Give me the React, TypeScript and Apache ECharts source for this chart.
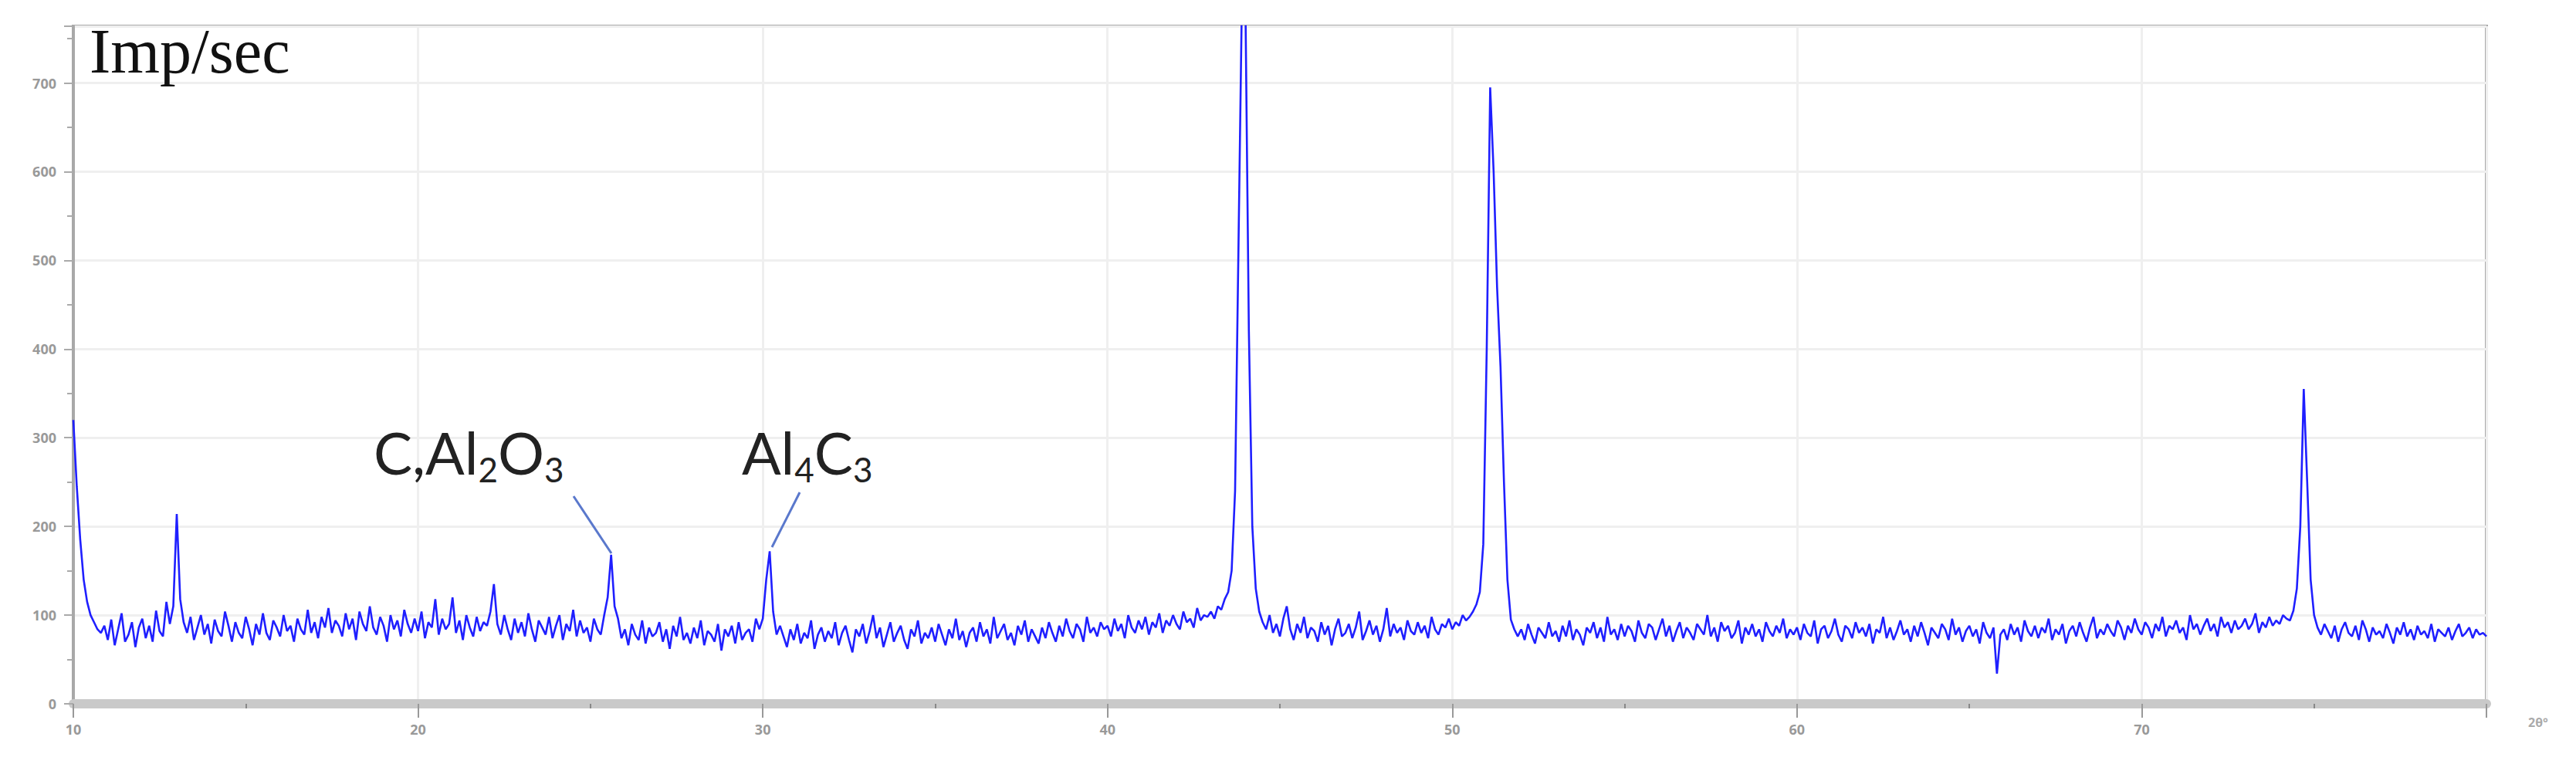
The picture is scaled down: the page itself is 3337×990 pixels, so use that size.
import React, { useEffect, useRef } from 'react';
import * as echarts from 'echarts';

// 2θ scan: start angle and step (degrees)
const thetaStart = 10.0;
const thetaStep = 0.1;

// Intensity (Imp/sec), 0.1° step
const seg10to20 = [
  320, 245, 185, 140, 115, 100, 92, 84, 80, 88,
  72, 95, 66, 84, 102, 70, 78, 92, 64, 86,
  96, 74, 88, 70, 105, 82, 76, 115, 90, 110,
  214, 118, 92, 80, 98, 72, 86, 100, 78, 90,
  68, 95, 82, 76, 104, 88, 70, 92, 80, 74,
  98, 84, 66, 90, 78, 102, 80, 72, 94, 86,
  76, 100, 82, 88, 70, 96, 84, 78, 106, 80,
  92, 74, 98, 86, 108, 80, 94, 88, 76, 102,
  84, 96, 72, 104, 90, 82, 110, 86, 78, 98,
  88, 70, 100, 84, 94, 76, 106, 90, 80, 96,
];
const seg20to30 = [
  82, 104, 74, 92, 86, 118, 78, 96, 84, 90,
  120, 80, 94, 72, 100, 86, 76, 98, 82, 92,
  88, 104, 135, 90, 78, 100, 84, 72, 96, 80,
  92, 76, 102, 84, 70, 94, 86, 78, 98, 74,
  88, 100, 72, 90, 82, 106, 76, 94, 80, 86,
  70, 96, 84, 78, 100, 120, 168, 110, 96, 74,
  84, 66, 90, 78, 72, 94, 68, 86, 76, 80,
  92, 70, 84, 62, 88, 76, 98, 72, 80, 68,
  86, 74, 94, 66, 82, 78, 70, 90, 60, 84,
  76, 88, 68, 92, 72, 80, 84, 70, 96, 84,
];
const seg30to40 = [
  96, 140, 172, 104, 78, 88, 76, 64, 84, 72,
  90, 68, 80, 74, 94, 62, 78, 86, 70, 82,
  74, 92, 66, 80, 88, 72, 58, 84, 76, 90,
  68, 82, 100, 74, 86, 64, 78, 92, 70, 80,
  88, 72, 62, 84, 76, 94, 68, 80, 74, 86,
  70, 90, 78, 66, 84, 74, 96, 72, 82, 64,
  80, 86, 70, 92, 76, 84, 68, 98, 74, 82,
  90, 72, 80, 66, 88, 78, 94, 70, 84, 76,
  68, 86, 74, 92, 80, 70, 88, 76, 96, 82,
  74, 90, 84, 70, 98, 80, 86, 76, 92, 84,
];
const seg40to50 = [
  88, 76, 96, 82, 90, 74, 100, 86, 80, 94,
  84, 98, 78, 92, 86, 102, 80, 94, 88, 100,
  90, 84, 104, 92, 96, 86, 108, 94, 100, 98,
  104, 96, 110, 106, 118, 126, 150, 240, 520, 800,
  790, 420, 200, 130, 104, 92, 84, 100, 80, 90,
  76, 96, 110, 84, 72, 90, 80, 98, 74, 86,
  82, 70, 92, 78, 88, 66, 84, 96, 76, 80,
  90, 74, 86, 104, 72, 82, 94, 78, 88, 70,
  84, 108, 76, 90, 80, 86, 72, 94, 82, 78,
  92, 80, 88, 74, 98, 84, 78, 90, 86, 96,
];
const seg50to60 = [
  84, 92, 88, 100, 94, 98, 104, 112, 126, 180,
  400, 695, 600, 470, 380, 250, 140, 95, 84, 76,
  84, 72, 90, 78, 68, 86, 80, 74, 92, 76,
  82, 70, 88, 76, 94, 72, 84, 78, 66, 86,
  80, 92, 74, 86, 70, 98, 78, 84, 72, 90,
  76, 88, 82, 70, 94, 80, 74, 90, 86, 72,
  84, 96, 76, 88, 70, 82, 92, 74, 86, 80,
  72, 90, 84, 78, 100, 76, 86, 70, 92, 82,
  88, 74, 80, 94, 68, 86, 78, 90, 76, 84,
  70, 92, 82, 76, 88, 80, 96, 74, 84, 78,
];
const seg60to70 = [
  86, 72, 90, 80, 76, 94, 68, 84, 88, 74,
  82, 96, 78, 70, 88, 84, 74, 92, 80, 86,
  76, 90, 68, 84, 80, 98, 74, 86, 72, 82,
  94, 78, 84, 70, 88, 76, 92, 80, 66, 86,
  80, 74, 90, 84, 72, 96, 78, 86, 70, 82,
  88, 76, 84, 68, 92, 80, 74, 86, 34, 78,
  84, 72, 90, 78, 86, 70, 94, 82, 76, 88,
  74, 86, 80, 96, 72, 84, 78, 90, 68, 82,
  88, 76, 92, 80, 70, 86, 98, 74, 84, 78,
  90, 82, 76, 94, 86, 72, 88, 80, 96, 84,
];
const seg70to80 = [
  78, 92, 86, 74, 90, 82, 98, 76, 88, 84,
  94, 80, 86, 72, 100, 84, 90, 78, 88, 96,
  82, 90, 76, 98, 86, 92, 80, 94, 84, 88,
  96, 84, 90, 102, 80, 92, 86, 98, 88, 94,
  90, 100, 96, 94, 105, 130, 200, 355, 250, 140,
  100, 86, 78, 90, 82, 74, 88, 70, 84, 92,
  80, 76, 88, 72, 94, 84, 70, 86, 78, 82,
  74, 90, 80, 68, 86, 78, 92, 76, 84, 72,
  88, 78, 82, 74, 90, 70, 84, 80, 76, 86,
  72, 82, 90, 76, 80, 86, 74, 84, 78, 80,
  76,
];

const intensity = [
  ...seg10to20, ...seg20to30, ...seg30to40, ...seg40to50,
  ...seg50to60, ...seg60to70, ...seg70to80,
];

const xMin = 10;
const xMax = 80;
const xInterval = 10;
const yMin = 0;
const yMax = 764;
const yInterval = 100;

const yAxisTitle = 'Imp/sec';
const xAxisTitle = '2θ°';
// phase labels: [text, isSubscript]
const labelCAl2O3: [string, boolean][] = [['C,Al', false], ['2', true], ['O', false], ['3', true]];
const labelAl4C3: [string, boolean][] = [['Al', false], ['4', true], ['C', false], ['3', true]];

const MAIN_SIZE = 75;
const SUB_SIZE = 44;
const FONT_FAMILY = 'Lato';

function measure(text: string, size: number): number {
  const c = document.createElement('canvas');
  const ctx = c.getContext('2d');
  if (!ctx) return text.length * size * 0.55;
  ctx.font = `${size}px ${FONT_FAMILY}`;
  return ctx.measureText(text).width;
}

function formulaGroup(parts: [string, boolean][], left: number, mainCenterY: number) {
  const children: any[] = [];
  let x = left;
  parts.forEach(([t, sub]) => {
    const size = sub ? SUB_SIZE : MAIN_SIZE;
    children.push({
      type: 'text',
      z: 10,
      style: {
        text: t,
        x,
        y: sub ? mainCenterY + 22 : mainCenterY,
        fontFamily: FONT_FAMILY,
        fontSize: size,
        fill: '#222222',
        align: 'left',
        verticalAlign: 'middle',
      },
    });
    x += measure(t, size);
  });
  return children;
}

export default function App() {
  const ref = useRef<HTMLDivElement>(null);

  useEffect(() => {
    if (!ref.current) return;
    const chart = echarts.init(ref.current, null, { renderer: 'svg' });
    const data = intensity.map((v, i) => [
      Math.round((thetaStart + i * thetaStep) * 10) / 10,
      v,
    ]);

    const option: any = {
      animation: false,
      backgroundColor: '#ffffff',
      grid: {
        left: 95,
        right: 116,
        top: 34,
        bottom: 78,
        show: true,
        borderColor: '#aaaaaa',
        borderWidth: 4,
        backgroundColor: 'transparent',
      },
      xAxis: {
        type: 'value',
        min: xMin,
        max: xMax,
        interval: xInterval,
        axisLine: { show: true, onZero: false, lineStyle: { color: '#c9c9c9', width: 12 } },
        axisTick: { show: true, length: 18, lineStyle: { color: '#999999', width: 2 } },
        minorTick: { show: true, splitNumber: 2, length: 6, lineStyle: { color: '#888888', width: 2 } },
        axisLabel: {
          color: '#999999',
          fontSize: 18,
          fontWeight: 'bold',
          fontFamily: 'Noto Sans',
          margin: 24,
          showMaxLabel: false,
        },
        splitLine: { show: true, lineStyle: { color: '#efefef', width: 3 } },
      },
      yAxis: {
        type: 'value',
        min: yMin,
        max: yMax,
        interval: yInterval,
        axisLine: { show: true, lineStyle: { color: '#a8a8a8', width: 4 } },
        axisTick: { show: true, length: 12, lineStyle: { color: '#aaaaaa', width: 2 } },
        minorTick: { show: true, splitNumber: 2, length: 8, lineStyle: { color: '#aaaaaa', width: 2 } },
        axisLabel: {
          color: '#999999',
          fontSize: 18,
          fontWeight: 'bold',
          fontFamily: 'Noto Sans',
          margin: 22,
          showMaxLabel: false,
        },
        splitLine: { show: true, lineStyle: { color: '#efefef', width: 3 } },
      },
      series: [
        {
          type: 'line',
          data,
          symbol: 'none',
          showSymbol: false,
          lineStyle: { color: '#1f1fff', width: 2.6 },
          clip: true,
          z: 3,
        },
      ],
      graphic: [
        {
          type: 'text',
          z: 10,
          style: {
            text: yAxisTitle,
            x: 116,
            y: 66,
            fontFamily: 'Liberation Serif',
            fontSize: 82,
            fill: '#111111',
            align: 'left',
            verticalAlign: 'middle',
          },
        },
        {
          type: 'text',
          z: 10,
          style: {
            text: xAxisTitle,
            x: 3288,
            y: 936,
            fontFamily: 'Noto Sans',
            fontSize: 16,
            fontWeight: 'bold',
            fill: '#aaaaaa',
            align: 'center',
            verticalAlign: 'middle',
          },
        },
        ...formulaGroup(labelCAl2O3, 484, 586),
        ...formulaGroup(labelAl4C3, 961, 586),
        {
          type: 'line',
          z: 10,
          shape: { x1: 743, y1: 643, x2: 792, y2: 717 },
          style: { stroke: '#5a78cc', lineWidth: 3 },
        },
        {
          type: 'line',
          z: 10,
          shape: { x1: 1036, y1: 638, x2: 1000, y2: 709 },
          style: { stroke: '#5a78cc', lineWidth: 3 },
        },
      ],
    };

    chart.setOption(option);
    return () => chart.dispose();
  }, []);

  return (
    <div
      ref={ref}
      style={{ position: 'fixed', left: 0, top: 0, width: 3337, height: 990, background: '#fff' }}
    />
  );
}
